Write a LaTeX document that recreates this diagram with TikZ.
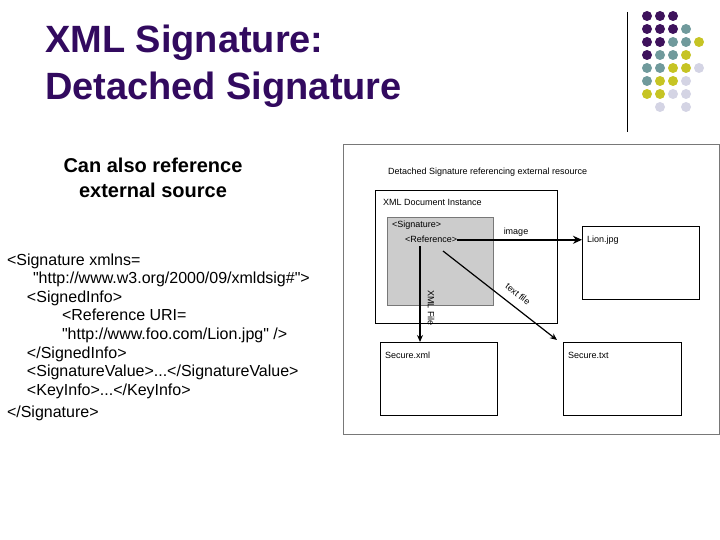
\documentclass[tikz,border=0pt]{standalone}
\usepackage{fontspec}
\setmainfont{Liberation Sans}
\usetikzlibrary{arrows.meta}
\definecolor{titlec}{RGB}{50,10,95}
\definecolor{dotP}{RGB}{62,18,92}
\definecolor{dotT}{RGB}{112,154,156}
\definecolor{dotY}{RGB}{198,196,36}
\definecolor{dotL}{RGB}{212,212,228}
\definecolor{sigfill}{RGB}{204,204,204}
\definecolor{framec}{RGB}{120,120,120}
\tikzset{
  titletext/.style={font=\fontsize{38}{44}\bfseries\selectfont, text=titlec, anchor=base west},
  subtext/.style={font=\fontsize{20}{24}\bfseries\selectfont, anchor=base},
  codetext/.style={font=\fontsize{16}{19}\selectfont, anchor=base west},
  dtext/.style={font=\fontsize{9}{11}\selectfont, anchor=base west},
  dlabel/.style={font=\fontsize{9}{11}\selectfont},
  boxnode/.style={draw=black, line width=1pt, anchor=north west, fill=white},
  sigbox/.style={draw=framec, line width=0.8pt, fill=sigfill, anchor=north west},
  outerframe/.style={draw=framec, line width=1pt, anchor=north west},
  conn/.style={line width=1.2pt, -{Stealth[length=7pt,width=6pt]}},
  thickconn/.style={line width=2.2pt, -{Stealth[length=9pt,width=8pt]}},
}
\begin{document}
\begin{tikzpicture}[x=1pt,y=-1pt, every node/.style={inner sep=0pt, outer sep=0pt}]
\useasboundingbox (0,0) rectangle (720,540);

% title
\node[titletext] (t1) at (45,53) {XML Signature:};
\node[titletext] (t2) at (45,100) {Detached Signature};

% decoration
\draw[line width=0.8pt] (627,12) -- (627,132);
\foreach \c/\x/\y in {dotP/647/16,dotP/660/16,dotP/673/16,
  dotP/647/29,dotP/660/29,dotP/673/29,dotT/686/29,
  dotP/647/42,dotP/660/42,dotT/673/42,dotT/686/42,dotY/699/42,
  dotP/647/55,dotT/660/55,dotT/673/55,dotY/686/55,
  dotT/647/68,dotT/660/68,dotY/673/68,dotY/686/68,dotL/699/68,
  dotT/647/81,dotY/660/81,dotY/673/81,dotL/686/81,
  dotY/647/94,dotY/660/94,dotL/673/94,dotL/686/94,
  dotL/660/107,dotL/686/107}
  \fill[\c] (\x,\y) circle (5pt);

% subtitle
\node[subtext] (s1) at (153,173) {Can also reference};
\node[subtext] (s2) at (153,197) {external source};

% code
\node[codetext] (c1) at (7,265) {<Signature xmlns=};
\node[codetext] (c2) at (33,283.6) {\textquotedbl http://www.w3.org/2000/09/xmldsig\#\textquotedbl>};
\node[codetext] (c3) at (27,302.2) {<SignedInfo>};
\node[codetext] (c4) at (62,320.8) {<Reference URI=};
\node[codetext] (c5) at (62,339.4) {\textquotedbl http://www.foo.com/Lion.jpg\textquotedbl{} />};
\node[codetext] (c6) at (27,358) {</SignedInfo>};
\node[codetext] (c7) at (27,376.6) {<SignatureValue>...</SignatureValue>};
\node[codetext] (c8) at (27,395.2) {<KeyInfo>...</KeyInfo>};
\node[codetext] (c9) at (7,417) {</Signature>};

% diagram
\node[outerframe, minimum width=376pt, minimum height=289pt] (outer) at (343,145) {};
\node[dtext] (cap) at (388,175) {Detached Signature referencing external resource};

\node[boxnode, minimum width=182pt, minimum height=132pt] (doc) at (375,191) {};
\node[dtext] (doclab) at (383,206) {XML Document Instance};
\node[sigbox, minimum width=106pt, minimum height=88pt] (sig) at (387,217) {};
\node[dtext] (siglab) at (392,228) {<Signature>};
\node[dtext] (ref) at (405,243) {<Reference>};

\node[boxnode, minimum width=117pt, minimum height=72pt] (lion) at (582,227) {};
\node[dtext] (lionlab) at (587,243) {Lion.jpg};
\node[boxnode, minimum width=117pt, minimum height=73pt] (sxml) at (380,342) {};
\node[dtext] (sxmllab) at (385,358) {Secure.xml};
\node[boxnode, minimum width=118pt, minimum height=73pt] (stxt) at (563,342) {};
\node[dtext] (stxtlab) at (568,358) {Secure.txt};

% connectors
\draw[thickconn] (ref.east) -- (ref.east -| lion.west);
\node[dlabel] (imglab) at (516,232) {image};

\coordinate (xa) at (420,246);
\draw[conn] (xa) -- (xa |- sxml.north);
\node[dlabel, rotate=-90] (xmllab) at (431,308) {XML File};

\coordinate (ta) at (443,251);
\coordinate (tb) at (557,340);
\draw[conn] (ta) -- (tb);
\node[dlabel, rotate=-38] (txtlab) at (518,294) {text file};
\end{tikzpicture}
\end{document}
